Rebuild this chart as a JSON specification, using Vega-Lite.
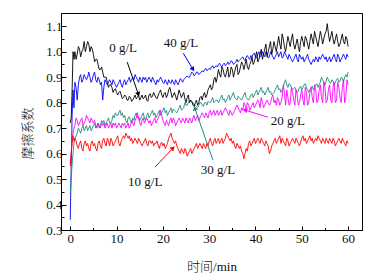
{
  "$schema": "https://vega.github.io/schema/vega-lite/v6.json",
  "autosize": {"type": "none"},
  "padding": {"left": 61, "top": 13, "right": 21, "bottom": 49},
  "width": 301,
  "height": 217,
  "background": "white",
  "config": {
    "view": {"stroke": "black", "strokeWidth": 1},
    "axis": {"grid": false, "domainColor": "black", "tickColor": "black", "labelColor": "#111111", "titleColor": "#111111", "labelFont": "Liberation Serif", "labelFontSize": 13, "titleFont": "Liberation Serif, Noto Sans CJK SC", "titleFontSize": 13, "titleFontWeight": 300}
  },
  "datasets": {
    "series": [
      {"t":0,"a":0.72,"b":0.55,"c":0.56,"d":0.44,"e":0.34},
      {"t":0.2,"a":0.74,"b":0.6,"c":0.6,"d":0.5,"e":0.55},
      {"t":0.4,"a":0.85,"b":0.64,"c":0.66,"d":0.56,"e":0.75},
      {"t":0.6,"a":1.0,"b":0.67,"c":0.68,"d":0.6,"e":0.85},
      {"t":0.8,"a":0.97,"b":0.65,"c":0.7,"d":0.64,"e":0.78},
      {"t":1.0,"a":1.0,"b":0.66,"c":0.71,"d":0.66,"e":0.88},
      {"t":1.25,"a":0.97,"b":0.65,"c":0.74,"d":0.67,"e":0.86},
      {"t":1.5,"a":0.99,"b":0.63,"c":0.73,"d":0.68,"e":0.81},
      {"t":1.75,"a":1.02,"b":0.62,"c":0.71,"d":0.7,"e":0.87},
      {"t":2,"a":1.01,"b":0.64,"c":0.72,"d":0.69,"e":0.9},
      {"t":2.25,"a":0.98,"b":0.65,"c":0.73,"d":0.68,"e":0.91},
      {"t":2.5,"a":1.0,"b":0.62,"c":0.74,"d":0.7,"e":0.88},
      {"t":2.75,"a":1.01,"b":0.61,"c":0.71,"d":0.71,"e":0.89},
      {"t":3,"a":1.04,"b":0.64,"c":0.72,"d":0.69,"e":0.91},
      {"t":3.25,"a":1.0,"b":0.65,"c":0.73,"d":0.7,"e":0.9},
      {"t":3.5,"a":1.02,"b":0.63,"c":0.75,"d":0.71,"e":0.89},
      {"t":3.75,"a":1.04,"b":0.64,"c":0.74,"d":0.69,"e":0.9},
      {"t":4,"a":1.03,"b":0.62,"c":0.73,"d":0.7,"e":0.92},
      {"t":4.25,"a":1.0,"b":0.61,"c":0.72,"d":0.71,"e":0.9},
      {"t":4.5,"a":1.02,"b":0.64,"c":0.74,"d":0.69,"e":0.88},
      {"t":4.75,"a":1.01,"b":0.65,"c":0.73,"d":0.7,"e":0.89},
      {"t":5,"a":0.99,"b":0.63,"c":0.72,"d":0.71,"e":0.91},
      {"t":5.25,"a":0.96,"b":0.64,"c":0.73,"d":0.72,"e":0.92},
      {"t":5.5,"a":0.97,"b":0.62,"c":0.71,"d":0.7,"e":0.89},
      {"t":5.75,"a":0.97,"b":0.61,"c":0.7,"d":0.71,"e":0.88},
      {"t":6,"a":0.95,"b":0.64,"c":0.72,"d":0.72,"e":0.9},
      {"t":6.25,"a":0.93,"b":0.65,"c":0.71,"d":0.7,"e":0.89},
      {"t":6.5,"a":0.93,"b":0.63,"c":0.7,"d":0.71,"e":0.87},
      {"t":6.75,"a":0.94,"b":0.62,"c":0.72,"d":0.73,"e":0.88},
      {"t":7,"a":0.92,"b":0.65,"c":0.71,"d":0.72,"e":0.81},
      {"t":7.25,"a":0.9,"b":0.66,"c":0.72,"d":0.73,"e":0.86},
      {"t":7.5,"a":0.9,"b":0.64,"c":0.7,"d":0.71,"e":0.89},
      {"t":7.75,"a":0.9,"b":0.63,"c":0.71,"d":0.72,"e":0.88},
      {"t":8,"a":0.88,"b":0.66,"c":0.72,"d":0.73,"e":0.87},
      {"t":8.25,"a":0.86,"b":0.65,"c":0.7,"d":0.74,"e":0.88},
      {"t":8.5,"a":0.87,"b":0.63,"c":0.71,"d":0.72,"e":0.89},
      {"t":8.75,"a":0.87,"b":0.66,"c":0.72,"d":0.72,"e":0.88},
      {"t":9,"a":0.86,"b":0.65,"c":0.7,"d":0.73,"e":0.87},
      {"t":9.25,"a":0.84,"b":0.63,"c":0.72,"d":0.75,"e":0.89},
      {"t":9.5,"a":0.85,"b":0.64,"c":0.71,"d":0.74,"e":0.88},
      {"t":9.75,"a":0.855,"b":0.65,"c":0.72,"d":0.76,"e":0.87},
      {"t":10,"a":0.84,"b":0.66,"c":0.7,"d":0.75,"e":0.86},
      {"t":10.25,"a":0.83,"b":0.67,"c":0.71,"d":0.75,"e":0.87},
      {"t":10.5,"a":0.84,"b":0.64,"c":0.72,"d":0.76,"e":0.88},
      {"t":10.75,"a":0.845,"b":0.63,"c":0.71,"d":0.77,"e":0.89},
      {"t":11,"a":0.83,"b":0.65,"c":0.7,"d":0.75,"e":0.87},
      {"t":11.25,"a":0.815,"b":0.66,"c":0.72,"d":0.76,"e":0.86},
      {"t":11.5,"a":0.82,"b":0.67,"c":0.71,"d":0.74,"e":0.88},
      {"t":11.75,"a":0.83,"b":0.66,"c":0.72,"d":0.75,"e":0.89},
      {"t":12,"a":0.825,"b":0.68,"c":0.7,"d":0.73,"e":0.87},
      {"t":12.25,"a":0.81,"b":0.67,"c":0.71,"d":0.72,"e":0.88},
      {"t":12.5,"a":0.81,"b":0.66,"c":0.72,"d":0.74,"e":0.89},
      {"t":12.75,"a":0.825,"b":0.67,"c":0.7,"d":0.745,"e":0.9},
      {"t":13,"a":0.82,"b":0.65,"c":0.71,"d":0.73,"e":0.88},
      {"t":13.25,"a":0.805,"b":0.66,"c":0.73,"d":0.72,"e":0.89},
      {"t":13.5,"a":0.81,"b":0.64,"c":0.72,"d":0.74,"e":0.9},
      {"t":13.75,"a":0.82,"b":0.65,"c":0.71,"d":0.73,"e":0.89},
      {"t":14,"a":0.83,"b":0.66,"c":0.73,"d":0.75,"e":0.91},
      {"t":14.25,"a":0.815,"b":0.65,"c":0.74,"d":0.76,"e":0.9},
      {"t":14.5,"a":0.82,"b":0.64,"c":0.76,"d":0.74,"e":0.89},
      {"t":14.75,"a":0.83,"b":0.66,"c":0.74,"d":0.745,"e":0.88},
      {"t":15,"a":0.81,"b":0.65,"c":0.72,"d":0.73,"e":0.9},
      {"t":15.25,"a":0.82,"b":0.64,"c":0.71,"d":0.74,"e":0.89},
      {"t":15.5,"a":0.83,"b":0.63,"c":0.73,"d":0.75,"e":0.88},
      {"t":15.75,"a":0.815,"b":0.64,"c":0.74,"d":0.76,"e":0.9},
      {"t":16,"a":0.82,"b":0.65,"c":0.72,"d":0.74,"e":0.89},
      {"t":16.25,"a":0.83,"b":0.66,"c":0.73,"d":0.73,"e":0.9},
      {"t":16.5,"a":0.81,"b":0.64,"c":0.74,"d":0.75,"e":0.88},
      {"t":16.75,"a":0.805,"b":0.63,"c":0.73,"d":0.76,"e":0.89},
      {"t":17,"a":0.83,"b":0.65,"c":0.72,"d":0.74,"e":0.9},
      {"t":17.25,"a":0.835,"b":0.65,"c":0.73,"d":0.75,"e":0.89},
      {"t":17.5,"a":0.82,"b":0.64,"c":0.71,"d":0.76,"e":0.88},
      {"t":17.75,"a":0.825,"b":0.65,"c":0.72,"d":0.77,"e":0.9},
      {"t":18,"a":0.84,"b":0.63,"c":0.73,"d":0.75,"e":0.89},
      {"t":18.25,"a":0.83,"b":0.64,"c":0.74,"d":0.76,"e":0.88},
      {"t":18.5,"a":0.82,"b":0.64,"c":0.72,"d":0.74,"e":0.87},
      {"t":18.75,"a":0.815,"b":0.65,"c":0.73,"d":0.75,"e":0.89},
      {"t":19,"a":0.83,"b":0.63,"c":0.74,"d":0.76,"e":0.88},
      {"t":19.25,"a":0.84,"b":0.62,"c":0.75,"d":0.77,"e":0.89},
      {"t":19.5,"a":0.85,"b":0.64,"c":0.77,"d":0.75,"e":0.9},
      {"t":19.75,"a":0.83,"b":0.645,"c":0.75,"d":0.76,"e":0.89},
      {"t":20,"a":0.82,"b":0.63,"c":0.73,"d":0.77,"e":0.88},
      {"t":20.25,"a":0.835,"b":0.64,"c":0.72,"d":0.78,"e":0.875},
      {"t":20.5,"a":0.84,"b":0.62,"c":0.71,"d":0.76,"e":0.89},
      {"t":20.75,"a":0.82,"b":0.63,"c":0.73,"d":0.77,"e":0.88},
      {"t":21,"a":0.83,"b":0.64,"c":0.72,"d":0.75,"e":0.87},
      {"t":21.25,"a":0.85,"b":0.66,"c":0.71,"d":0.76,"e":0.89},
      {"t":21.5,"a":0.86,"b":0.67,"c":0.73,"d":0.77,"e":0.88},
      {"t":21.75,"a":0.84,"b":0.68,"c":0.74,"d":0.78,"e":0.875},
      {"t":22,"a":0.82,"b":0.66,"c":0.72,"d":0.76,"e":0.89},
      {"t":22.25,"a":0.83,"b":0.65,"c":0.74,"d":0.775,"e":0.88},
      {"t":22.5,"a":0.84,"b":0.64,"c":0.73,"d":0.77,"e":0.87},
      {"t":22.75,"a":0.825,"b":0.65,"c":0.71,"d":0.765,"e":0.89},
      {"t":23,"a":0.81,"b":0.63,"c":0.72,"d":0.76,"e":0.88},
      {"t":23.25,"a":0.83,"b":0.62,"c":0.73,"d":0.77,"e":0.87},
      {"t":23.5,"a":0.85,"b":0.61,"c":0.74,"d":0.78,"e":0.88},
      {"t":23.75,"a":0.835,"b":0.6,"c":0.73,"d":0.79,"e":0.895},
      {"t":24,"a":0.82,"b":0.62,"c":0.72,"d":0.77,"e":0.89},
      {"t":24.25,"a":0.83,"b":0.61,"c":0.74,"d":0.775,"e":0.88},
      {"t":24.5,"a":0.84,"b":0.6,"c":0.73,"d":0.78,"e":0.89},
      {"t":24.75,"a":0.815,"b":0.62,"c":0.72,"d":0.8,"e":0.895},
      {"t":25,"a":0.8,"b":0.61,"c":0.74,"d":0.79,"e":0.9},
      {"t":25.25,"a":0.82,"b":0.59,"c":0.73,"d":0.79,"e":0.905},
      {"t":25.5,"a":0.83,"b":0.6,"c":0.72,"d":0.8,"e":0.9},
      {"t":25.75,"a":0.8,"b":0.61,"c":0.74,"d":0.805,"e":0.9},
      {"t":26,"a":0.81,"b":0.62,"c":0.73,"d":0.81,"e":0.91},
      {"t":26.25,"a":0.805,"b":0.6,"c":0.72,"d":0.8,"e":0.92},
      {"t":26.5,"a":0.79,"b":0.61,"c":0.74,"d":0.8,"e":0.915},
      {"t":26.75,"a":0.785,"b":0.62,"c":0.75,"d":0.79,"e":0.905},
      {"t":27,"a":0.8,"b":0.63,"c":0.73,"d":0.79,"e":0.91},
      {"t":27.25,"a":0.81,"b":0.64,"c":0.74,"d":0.785,"e":0.92},
      {"t":27.5,"a":0.79,"b":0.62,"c":0.75,"d":0.78,"e":0.92},
      {"t":27.75,"a":0.8,"b":0.63,"c":0.73,"d":0.79,"e":0.91},
      {"t":28,"a":0.82,"b":0.64,"c":0.74,"d":0.8,"e":0.915},
      {"t":28.25,"a":0.825,"b":0.63,"c":0.75,"d":0.8,"e":0.92},
      {"t":28.5,"a":0.81,"b":0.62,"c":0.76,"d":0.79,"e":0.925},
      {"t":28.75,"a":0.83,"b":0.64,"c":0.75,"d":0.785,"e":0.92},
      {"t":29,"a":0.84,"b":0.63,"c":0.74,"d":0.8,"e":0.93},
      {"t":29.25,"a":0.82,"b":0.62,"c":0.76,"d":0.8,"e":0.935},
      {"t":29.5,"a":0.83,"b":0.64,"c":0.75,"d":0.79,"e":0.925},
      {"t":29.75,"a":0.85,"b":0.63,"c":0.74,"d":0.805,"e":0.93},
      {"t":30,"a":0.86,"b":0.65,"c":0.76,"d":0.8,"e":0.935},
      {"t":30.25,"a":0.87,"b":0.66,"c":0.77,"d":0.8,"e":0.93},
      {"t":30.5,"a":0.85,"b":0.64,"c":0.75,"d":0.81,"e":0.94},
      {"t":30.75,"a":0.86,"b":0.63,"c":0.76,"d":0.82,"e":0.945},
      {"t":31,"a":0.89,"b":0.65,"c":0.77,"d":0.8,"e":0.935},
      {"t":31.25,"a":0.9,"b":0.66,"c":0.75,"d":0.805,"e":0.94},
      {"t":31.5,"a":0.88,"b":0.64,"c":0.76,"d":0.81,"e":0.945},
      {"t":31.75,"a":0.9,"b":0.65,"c":0.77,"d":0.81,"e":0.94},
      {"t":32,"a":0.93,"b":0.66,"c":0.75,"d":0.8,"e":0.95},
      {"t":32.25,"a":0.91,"b":0.64,"c":0.76,"d":0.81,"e":0.955},
      {"t":32.5,"a":0.9,"b":0.65,"c":0.77,"d":0.82,"e":0.945},
      {"t":32.75,"a":0.94,"b":0.66,"c":0.75,"d":0.83,"e":0.94},
      {"t":33,"a":0.93,"b":0.64,"c":0.76,"d":0.81,"e":0.95},
      {"t":33.25,"a":0.91,"b":0.65,"c":0.77,"d":0.815,"e":0.955},
      {"t":33.5,"a":0.9,"b":0.66,"c":0.78,"d":0.8,"e":0.945},
      {"t":33.75,"a":0.92,"b":0.68,"c":0.77,"d":0.81,"e":0.95},
      {"t":34,"a":0.94,"b":0.67,"c":0.76,"d":0.82,"e":0.96},
      {"t":34.25,"a":0.9,"b":0.66,"c":0.75,"d":0.83,"e":0.95},
      {"t":34.5,"a":0.91,"b":0.65,"c":0.77,"d":0.81,"e":0.955},
      {"t":34.75,"a":0.94,"b":0.66,"c":0.76,"d":0.82,"e":0.965},
      {"t":35,"a":0.93,"b":0.64,"c":0.75,"d":0.83,"e":0.96},
      {"t":35.25,"a":0.9,"b":0.65,"c":0.76,"d":0.84,"e":0.95},
      {"t":35.5,"a":0.92,"b":0.63,"c":0.77,"d":0.82,"e":0.955},
      {"t":35.75,"a":0.94,"b":0.62,"c":0.78,"d":0.815,"e":0.96},
      {"t":36,"a":0.95,"b":0.64,"c":0.79,"d":0.81,"e":0.97},
      {"t":36.25,"a":0.91,"b":0.63,"c":0.78,"d":0.825,"e":0.96},
      {"t":36.5,"a":0.92,"b":0.62,"c":0.77,"d":0.82,"e":0.965},
      {"t":36.75,"a":0.94,"b":0.63,"c":0.76,"d":0.815,"e":0.97},
      {"t":37,"a":0.96,"b":0.61,"c":0.78,"d":0.81,"e":0.975},
      {"t":37.25,"a":0.95,"b":0.6,"c":0.77,"d":0.82,"e":0.98},
      {"t":37.5,"a":0.93,"b":0.58,"c":0.8,"d":0.83,"e":0.97},
      {"t":37.75,"a":0.95,"b":0.6,"c":0.79,"d":0.84,"e":0.965},
      {"t":38,"a":0.97,"b":0.62,"c":0.77,"d":0.82,"e":0.98},
      {"t":38.25,"a":0.94,"b":0.61,"c":0.8,"d":0.815,"e":0.985},
      {"t":38.5,"a":0.93,"b":0.64,"c":0.79,"d":0.81,"e":0.975},
      {"t":38.75,"a":0.95,"b":0.65,"c":0.77,"d":0.82,"e":0.97},
      {"t":39,"a":0.96,"b":0.63,"c":0.78,"d":0.83,"e":0.985},
      {"t":39.25,"a":0.98,"b":0.64,"c":0.79,"d":0.835,"e":0.98},
      {"t":39.5,"a":0.95,"b":0.65,"c":0.8,"d":0.82,"e":0.99},
      {"t":39.75,"a":0.96,"b":0.66,"c":0.78,"d":0.83,"e":0.995},
      {"t":40,"a":0.98,"b":0.64,"c":0.79,"d":0.84,"e":0.98},
      {"t":40.25,"a":1.0,"b":0.65,"c":0.8,"d":0.85,"e":0.975},
      {"t":40.5,"a":0.96,"b":0.66,"c":0.81,"d":0.83,"e":0.99},
      {"t":40.75,"a":0.97,"b":0.65,"c":0.8,"d":0.84,"e":1.0},
      {"t":41,"a":0.99,"b":0.64,"c":0.78,"d":0.85,"e":0.98},
      {"t":41.25,"a":1.01,"b":0.66,"c":0.82,"d":0.86,"e":0.985},
      {"t":41.5,"a":0.97,"b":0.65,"c":0.8,"d":0.84,"e":1.0},
      {"t":41.75,"a":0.99,"b":0.64,"c":0.78,"d":0.845,"e":0.99},
      {"t":42,"a":1.01,"b":0.63,"c":0.79,"d":0.83,"e":0.98},
      {"t":42.25,"a":1.03,"b":0.65,"c":0.8,"d":0.84,"e":1.0},
      {"t":42.5,"a":0.98,"b":0.64,"c":0.81,"d":0.85,"e":0.99},
      {"t":42.75,"a":1.0,"b":0.63,"c":0.8,"d":0.86,"e":0.975},
      {"t":43,"a":1.02,"b":0.6,"c":0.79,"d":0.84,"e":0.98},
      {"t":43.25,"a":1.04,"b":0.61,"c":0.8,"d":0.845,"e":1.0},
      {"t":43.5,"a":0.99,"b":0.63,"c":0.82,"d":0.83,"e":0.99},
      {"t":43.75,"a":1.01,"b":0.64,"c":0.83,"d":0.835,"e":0.98},
      {"t":44,"a":1.04,"b":0.65,"c":0.8,"d":0.84,"e":0.97},
      {"t":44.25,"a":1.02,"b":0.66,"c":0.81,"d":0.85,"e":0.98},
      {"t":44.5,"a":1.0,"b":0.64,"c":0.79,"d":0.86,"e":0.99},
      {"t":44.75,"a":1.03,"b":0.65,"c":0.82,"d":0.87,"e":1.0},
      {"t":45,"a":1.06,"b":0.66,"c":0.81,"d":0.85,"e":0.98},
      {"t":45.25,"a":1.03,"b":0.67,"c":0.79,"d":0.855,"e":0.99},
      {"t":45.5,"a":1.01,"b":0.64,"c":0.8,"d":0.84,"e":1.0},
      {"t":45.75,"a":1.07,"b":0.66,"c":0.82,"d":0.85,"e":0.975},
      {"t":46,"a":1.05,"b":0.65,"c":0.87,"d":0.86,"e":0.98},
      {"t":46.25,"a":1.02,"b":0.64,"c":0.84,"d":0.88,"e":1.0},
      {"t":46.5,"a":1.0,"b":0.63,"c":0.79,"d":0.89,"e":0.99},
      {"t":46.75,"a":1.03,"b":0.66,"c":0.85,"d":0.87,"e":0.98},
      {"t":47,"a":1.06,"b":0.65,"c":0.82,"d":0.86,"e":0.97},
      {"t":47.25,"a":1.04,"b":0.63,"c":0.79,"d":0.875,"e":0.99},
      {"t":47.5,"a":1.02,"b":0.64,"c":0.8,"d":0.87,"e":0.98},
      {"t":47.75,"a":1.05,"b":0.65,"c":0.86,"d":0.86,"e":0.97},
      {"t":48,"a":1.07,"b":0.66,"c":0.84,"d":0.85,"e":0.96},
      {"t":48.25,"a":1.03,"b":0.65,"c":0.81,"d":0.855,"e":0.97},
      {"t":48.5,"a":1.01,"b":0.64,"c":0.79,"d":0.86,"e":0.98},
      {"t":48.75,"a":1.03,"b":0.66,"c":0.85,"d":0.85,"e":0.99},
      {"t":49,"a":1.05,"b":0.65,"c":0.83,"d":0.84,"e":0.97},
      {"t":49.25,"a":1.02,"b":0.64,"c":0.79,"d":0.845,"e":0.96},
      {"t":49.5,"a":1.0,"b":0.63,"c":0.8,"d":0.86,"e":0.99},
      {"t":49.75,"a":1.04,"b":0.645,"c":0.83,"d":0.865,"e":0.98},
      {"t":50,"a":1.06,"b":0.66,"c":0.85,"d":0.85,"e":0.97},
      {"t":50.25,"a":1.04,"b":0.67,"c":0.81,"d":0.86,"e":0.98},
      {"t":50.5,"a":1.02,"b":0.65,"c":0.79,"d":0.87,"e":0.96},
      {"t":50.75,"a":1.06,"b":0.66,"c":0.86,"d":0.875,"e":0.97},
      {"t":51,"a":1.05,"b":0.64,"c":0.84,"d":0.86,"e":0.98},
      {"t":51.25,"a":1.03,"b":0.65,"c":0.79,"d":0.85,"e":0.99},
      {"t":51.5,"a":1.01,"b":0.66,"c":0.8,"d":0.84,"e":0.97},
      {"t":51.75,"a":1.04,"b":0.67,"c":0.84,"d":0.85,"e":0.96},
      {"t":52,"a":1.07,"b":0.65,"c":0.86,"d":0.86,"e":0.95},
      {"t":52.25,"a":1.05,"b":0.66,"c":0.82,"d":0.865,"e":0.96},
      {"t":52.5,"a":1.03,"b":0.64,"c":0.8,"d":0.85,"e":0.97},
      {"t":52.75,"a":1.08,"b":0.65,"c":0.87,"d":0.86,"e":0.96},
      {"t":53,"a":1.06,"b":0.66,"c":0.85,"d":0.87,"e":0.98},
      {"t":53.25,"a":1.04,"b":0.65,"c":0.8,"d":0.875,"e":0.97},
      {"t":53.5,"a":1.02,"b":0.67,"c":0.81,"d":0.86,"e":0.96},
      {"t":53.75,"a":1.05,"b":0.66,"c":0.85,"d":0.87,"e":0.98},
      {"t":54,"a":1.08,"b":0.65,"c":0.87,"d":0.88,"e":0.97},
      {"t":54.25,"a":1.06,"b":0.64,"c":0.82,"d":0.9,"e":0.98},
      {"t":54.5,"a":1.03,"b":0.66,"c":0.8,"d":0.89,"e":0.99},
      {"t":54.75,"a":1.05,"b":0.65,"c":0.88,"d":0.88,"e":0.98},
      {"t":55,"a":1.07,"b":0.64,"c":0.86,"d":0.87,"e":0.97},
      {"t":55.25,"a":1.08,"b":0.66,"c":0.8,"d":0.885,"e":0.98},
      {"t":55.5,"a":1.11,"b":0.65,"c":0.81,"d":0.9,"e":0.96},
      {"t":55.75,"a":1.07,"b":0.64,"c":0.85,"d":0.89,"e":0.97},
      {"t":56,"a":1.04,"b":0.66,"c":0.87,"d":0.88,"e":0.98},
      {"t":56.25,"a":1.06,"b":0.65,"c":0.81,"d":0.875,"e":0.96},
      {"t":56.5,"a":1.08,"b":0.64,"c":0.8,"d":0.89,"e":0.97},
      {"t":56.75,"a":1.05,"b":0.66,"c":0.86,"d":0.885,"e":0.98},
      {"t":57,"a":1.03,"b":0.65,"c":0.88,"d":0.87,"e":0.99},
      {"t":57.25,"a":1.05,"b":0.63,"c":0.8,"d":0.88,"e":0.97},
      {"t":57.5,"a":1.07,"b":0.64,"c":0.81,"d":0.89,"e":0.96},
      {"t":57.75,"a":1.04,"b":0.65,"c":0.88,"d":0.895,"e":0.99},
      {"t":58,"a":1.02,"b":0.66,"c":0.86,"d":0.88,"e":0.98},
      {"t":58.25,"a":1.03,"b":0.65,"c":0.82,"d":0.885,"e":0.96},
      {"t":58.5,"a":1.05,"b":0.64,"c":0.8,"d":0.9,"e":0.97},
      {"t":58.75,"a":1.07,"b":0.66,"c":0.86,"d":0.895,"e":0.98},
      {"t":59,"a":1.04,"b":0.65,"c":0.89,"d":0.88,"e":0.99},
      {"t":59.25,"a":1.03,"b":0.64,"c":0.8,"d":0.9,"e":0.98},
      {"t":59.5,"a":1.06,"b":0.63,"c":0.82,"d":0.91,"e":0.97},
      {"t":59.75,"a":1.05,"b":0.65,"c":0.89,"d":0.9,"e":0.99},
      {"t":60,"a":1.02,"b":0.64,"c":0.87,"d":0.92,"e":0.98}
    ],
    "notes": [
      {"s":"a","lab":"0 g/L","tx":11.4,"ty":1.014,"x1":12.3,"y1":0.959,"x2":14.7,"y2":0.833},
      {"s":"e","lab":"40 g/L","tx":23.9,"ty":1.033,"x1":24.4,"y1":0.994,"x2":26.5,"y2":0.931},
      {"s":"c","lab":"20 g/L","tx":47.0,"ty":0.727,"x1":42.7,"y1":0.743,"x2":37.7,"y2":0.771},
      {"s":"b","lab":"10 g/L","tx":16.2,"ty":0.488,"x1":18.3,"y1":0.547,"x2":22.2,"y2":0.622},
      {"s":"d","lab":"30 g/L","tx":31.9,"ty":0.535,"x1":30.8,"y1":0.575,"x2":26.9,"y2":0.778}
    ]
  },
  "encoding": {
    "x": {"type": "quantitative", "scale": {"domain": [-2, 63], "nice": false, "zero": false},
      "axis": {"title": "时间/min", "values": [0,5,10,15,20,25,30,35,40,45,50,55,60],
        "labelExpr": "datum.value % 10 == 0 ? datum.label : ''",
        "tickSize": {"condition": {"test": "datum.value % 10 == 0", "value": -4}, "value": -2.5},
        "labelPadding": 6, "titleX": 150.5, "titleY": 36, "titleBaseline": "middle"}},
    "y": {"type": "quantitative", "scale": {"domain": [0.3, 1.152], "nice": false, "zero": false},
      "axis": {"title": "摩擦系数", "values": [0.3,0.35,0.4,0.45,0.5,0.55,0.6,0.65,0.7,0.75,0.8,0.85,0.9,0.95,1.0,1.05,1.1],
        "labelExpr": "round(datum.value*100) % 10 == 0 ? format(datum.value, '.1f') : ''",
        "tickSize": {"condition": {"test": "round(datum.value*100) % 10 == 0", "value": -5}, "value": -3},
        "labelPadding": 4, "titleX": -33.5, "titleY": 120, "titleBaseline": "middle", "titleAngle": -90}}
  },
  "layer": [
    {
      "data": {"name": "series"},
      "transform": [{"fold": ["e", "d", "c", "b", "a"], "as": ["k", "v"]}],
      "mark": {"type": "line", "strokeWidth": 0.9, "clip": true},
      "encoding": {
        "x": {"field": "t"},
        "y": {"field": "v"},
        "color": {"field": "k", "type": "nominal", "scale": {"domain": ["a","b","c","d","e"], "range": ["#000000","#ff0000","#ff00ff","#1f8a7f","#0000ff"]}, "legend": null},
        "order": {"field": "t"}
      }
    },
    {
      "data": {"name": "notes"},
      "mark": {"type": "rule", "strokeWidth": 1},
      "encoding": {
        "x": {"field": "x1"}, "y": {"field": "y1"}, "x2": {"field": "x2"}, "y2": {"field": "y2"},
        "color": {"field": "s", "type": "nominal", "legend": null}
      }
    },
    {
      "data": {"name": "notes"},
      "mark": {"type": "text", "font": "Liberation Serif", "fontSize": 13, "color": "#111111"},
      "encoding": {"x": {"field": "tx"}, "y": {"field": "ty"}, "text": {"field": "lab"}}
    },
    {
      "data": {"name": "notes"},
      "transform": [{"filter": "datum.lab == '0 g/L'"}],
      "mark": {"type": "point", "shape": "triangle-up", "filled": true, "opacity": 1, "size": 28, "angle": 161},
      "encoding": {"x": {"field": "x2"}, "y": {"field": "y2"}, "color": {"field": "s", "type": "nominal", "legend": null}}
    },
    {
      "data": {"name": "notes"},
      "transform": [{"filter": "datum.lab == '40 g/L'"}],
      "mark": {"type": "point", "shape": "triangle-up", "filled": true, "opacity": 1, "size": 28, "angle": 148},
      "encoding": {"x": {"field": "x2"}, "y": {"field": "y2"}, "color": {"field": "s", "type": "nominal", "legend": null}}
    },
    {
      "data": {"name": "notes"},
      "transform": [{"filter": "datum.lab == '20 g/L'"}],
      "mark": {"type": "point", "shape": "triangle-up", "filled": true, "opacity": 1, "size": 28, "angle": 287},
      "encoding": {"x": {"field": "x2"}, "y": {"field": "y2"}, "color": {"field": "s", "type": "nominal", "legend": null}}
    },
    {
      "data": {"name": "notes"},
      "transform": [{"filter": "datum.lab == '10 g/L'"}],
      "mark": {"type": "point", "shape": "triangle-up", "filled": true, "opacity": 1, "size": 28, "angle": 43},
      "encoding": {"x": {"field": "x2"}, "y": {"field": "y2"}, "color": {"field": "s", "type": "nominal", "legend": null}}
    },
    {
      "data": {"name": "notes"},
      "transform": [{"filter": "datum.lab == '30 g/L'"}],
      "mark": {"type": "point", "shape": "triangle-up", "filled": true, "opacity": 1, "size": 28, "angle": 341},
      "encoding": {"x": {"field": "x2"}, "y": {"field": "y2"}, "color": {"field": "s", "type": "nominal", "legend": null}}
    }
  ]
}
